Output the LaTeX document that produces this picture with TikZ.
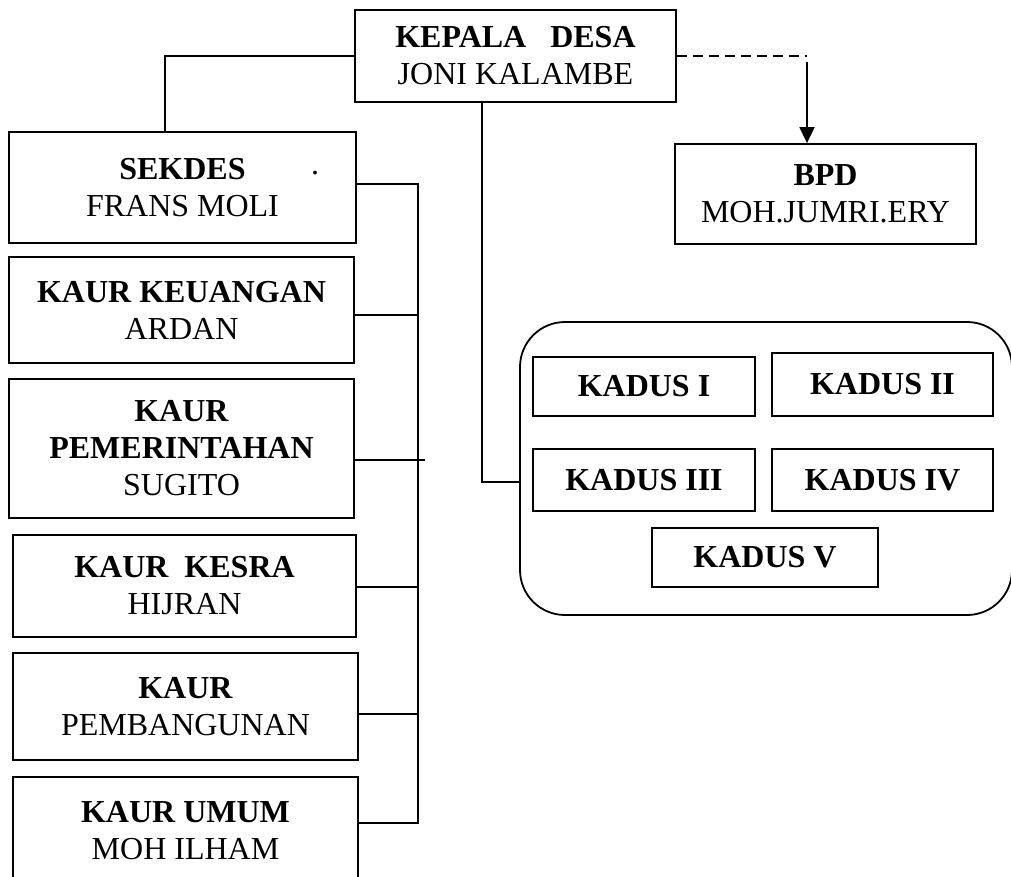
\documentclass[tikz,border=0pt]{standalone}
\usepackage{fontspec}
\setmainfont{Liberation Serif}
\usetikzlibrary{arrows.meta}

\begin{document}
\begin{tikzpicture}[x=1pt,y=-1pt,
  box/.style={draw,line width=1.8pt,inner sep=0pt,align=center,font=\fontsize{32}{37}\selectfont},
  kadusbox/.style={box,font=\fontsize{32}{37}\selectfont\bfseries},
  link/.style={line width=1.8pt},
  dusunframe/.style={draw,line width=1.8pt,rounded corners=45pt,inner sep=0pt}]
\path[use as bounding box] (0,0) rectangle (1011,876);
\node[box,minimum width=321pt,minimum height=92pt] (kades) at (515.5,56) {\textbf{KEPALA\ \ \ DESA}\\JONI KALAMBE};
\node[box,minimum width=347pt,minimum height=111pt] (sekdes) at (182.5,187.5) {\textbf{SEKDES}\\FRANS MOLI};
\node[anchor=base,inner sep=0pt,font=\fontsize{32}{37}\selectfont] (sekdesdot) at (315,174) {.};
\node[box,minimum width=345pt,minimum height=106pt] (keuangan) at (181.5,310) {\textbf{KAUR KEUANGAN}\\ARDAN};
\node[box,minimum width=345pt,minimum height=139pt] (pemerintahan) at (181.5,448.5) {\textbf{KAUR}\\\textbf{PEMERINTAHAN}\\SUGITO};
\node[box,minimum width=343pt,minimum height=102pt] (kesra) at (184.5,586) {\textbf{KAUR\ \ KESRA}\\HIJRAN};
\node[box,minimum width=345pt,minimum height=107pt] (pembangunan) at (185.5,706.5) {\textbf{KAUR}\\PEMBANGUNAN};
\node[box,minimum width=345pt,minimum height=108pt] (umum) at (185.5,831) {\textbf{KAUR UMUM}\\MOH ILHAM};
\node[box,minimum width=301pt,minimum height=100pt] (bpd) at (825.5,194) {\textbf{BPD}\\MOH.JUMRI.ERY};
\node[dusunframe,minimum width=492pt,minimum height=293pt] (dusun) at (766,468.5) {};
\node[kadusbox,minimum width=222pt,minimum height=59pt] (kadus1) at (644,386.5) {KADUS I};
\node[kadusbox,minimum width=221pt,minimum height=63pt] (kadus2) at (882.5,384.5) {KADUS II};
\node[kadusbox,minimum width=222pt,minimum height=62pt] (kadus3) at (644,480) {KADUS III};
\node[kadusbox,minimum width=221pt,minimum height=62pt] (kadus4) at (882.5,480) {KADUS IV};
\node[kadusbox,minimum width=226pt,minimum height=59pt] (kadus5) at (765,557.5) {KADUS V};
\coordinate (sekjoin) at (165,56);
\coordinate (bpdjoin) at (807,56);
\coordinate (dusunjoin) at (482,482);
\coordinate (trunktop) at (418,184);
\coordinate (trunkend) at (418,823);
\draw[link] (kades.west) -- (sekjoin) -- (sekjoin |- sekdes.north);
\draw[link,line width=2.4pt,dash pattern=on 10pt off 6pt] (kades.east) -- (bpdjoin);
\draw[link,-{Triangle[length=16pt,width=15pt]}] ([yshift=-6pt]bpdjoin) -- (bpdjoin |- bpd.north);
\draw[link] (kades.south -| dusunjoin) -- (dusunjoin) -- (dusunjoin -| dusun.west);
\draw[link] (sekdes.east |- trunktop) -- (trunktop) -- (trunkend) -- (trunkend -| umum.east);
\foreach \n/\s in {keuangan/-5,kesra/-1,pembangunan/-7.5}
  \draw[link] ([yshift=\s pt]\n.east) -- ([yshift=\s pt]\n.east -| trunktop);
\draw[link] ([yshift=-11.5pt]pemerintahan.east) -- ([yshift=-11.5pt,xshift=7pt]pemerintahan.east -| trunktop);
\end{tikzpicture}
\end{document}
